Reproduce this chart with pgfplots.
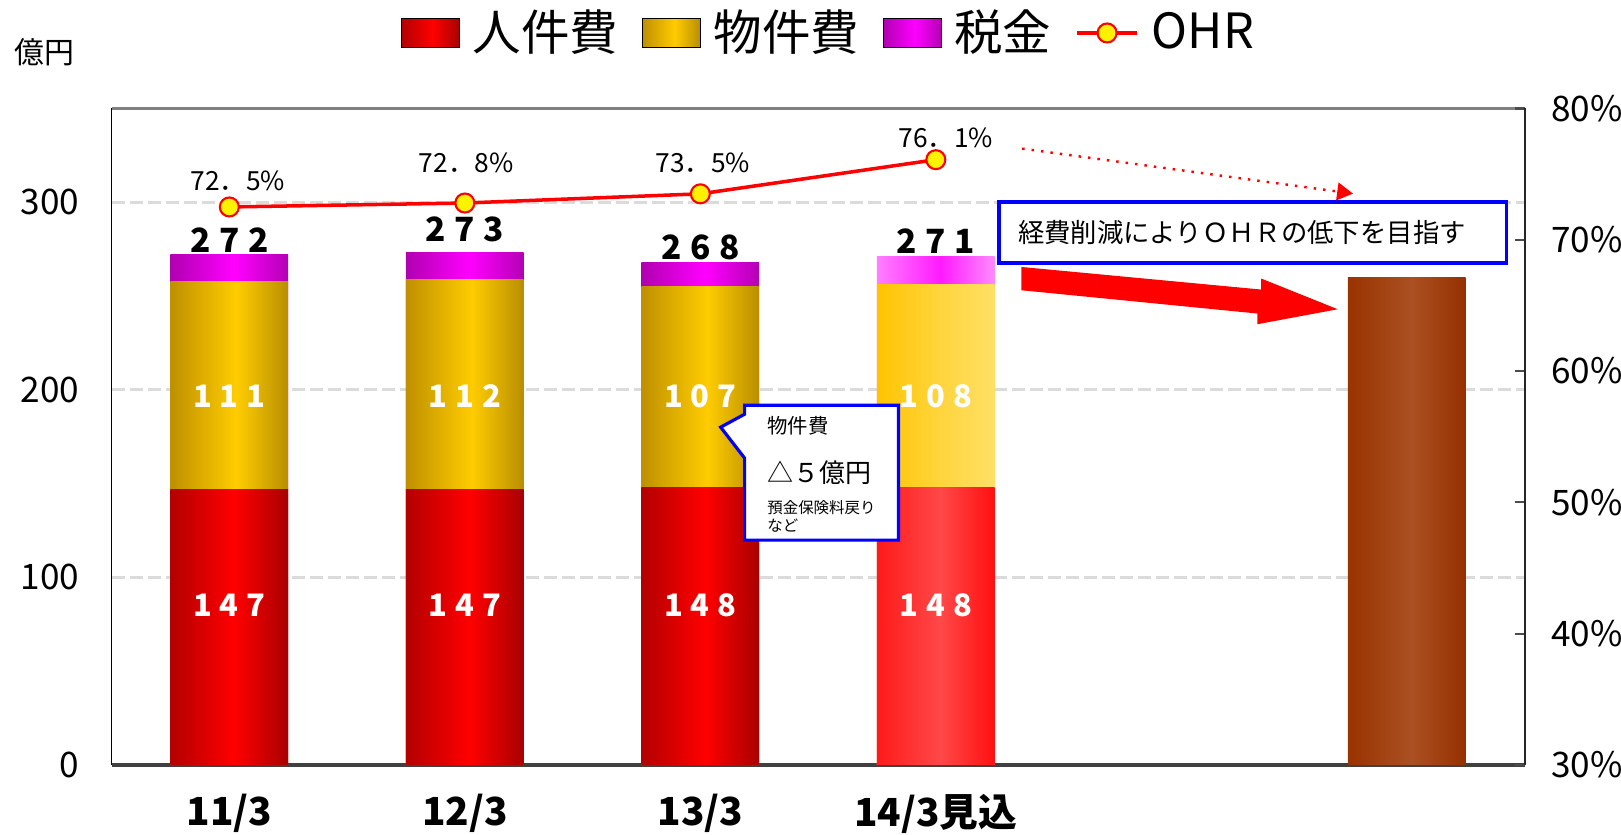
\documentclass[border=0pt]{standalone}
\usepackage{fontspec}
\setmainfont{Noto Sans CJK JP}
\usepackage{pgfplots}
\pgfplotsset{compat=1.18}
\usepackage{pgfplotstable}
\usetikzlibrary{arrows.meta}

\definecolor{jkL}{HTML}{B30000}\definecolor{jkC}{HTML}{FF0000}\definecolor{jkR}{HTML}{A80000}
\definecolor{bkL}{HTML}{BF9000}\definecolor{bkC}{HTML}{FFCC00}\definecolor{bkR}{HTML}{B88E00}
\definecolor{zkL}{HTML}{B000B0}\definecolor{zkC}{HTML}{FF00FF}\definecolor{zkR}{HTML}{B400B4}
\definecolor{jfL}{HTML}{FF1A1A}\definecolor{jfC}{HTML}{FF4848}\definecolor{jfR}{HTML}{FF1010}
\definecolor{bfL}{HTML}{FFC400}\definecolor{bfC}{HTML}{FFD43A}\definecolor{bfR}{HTML}{FFE066}
\definecolor{zfL}{HTML}{FF7FFF}\definecolor{zfC}{HTML}{FF1AFF}\definecolor{zfR}{HTML}{FF8CFF}
\definecolor{brL}{HTML}{993300}\definecolor{brC}{HTML}{AA5022}\definecolor{brR}{HTML}{963000}
\definecolor{boxblue}{HTML}{0000FF}

\pgfdeclarehorizontalshading{jinken}{100bp}{color(0bp)=(jkL); color(25bp)=(jkL); color(52bp)=(jkC); color(75bp)=(jkR); color(100bp)=(jkR)}
\pgfdeclarehorizontalshading{buken}{100bp}{color(0bp)=(bkL); color(25bp)=(bkL); color(53bp)=(bkC); color(75bp)=(bkR); color(100bp)=(bkR)}
\pgfdeclarehorizontalshading{zei}{100bp}{color(0bp)=(zkL); color(25bp)=(zkL); color(52bp)=(zkC); color(75bp)=(zkR); color(100bp)=(zkR)}
\pgfdeclarehorizontalshading{jinkenF}{100bp}{color(0bp)=(jfL); color(25bp)=(jfL); color(52bp)=(jfC); color(75bp)=(jfR); color(100bp)=(jfR)}
\pgfdeclarehorizontalshading{bukenF}{100bp}{color(0bp)=(bfL); color(25bp)=(bfL); color(50bp)=(bfC); color(75bp)=(bfR); color(100bp)=(bfR)}
\pgfdeclarehorizontalshading{zeiF}{100bp}{color(0bp)=(zfL); color(25bp)=(zfL); color(52bp)=(zfC); color(75bp)=(zfR); color(100bp)=(zfR)}
\pgfdeclarehorizontalshading{brown}{100bp}{color(0bp)=(brL); color(25bp)=(brL); color(52bp)=(brC); color(75bp)=(brR); color(100bp)=(brR)}

\pgfplotstableread{
x p m t
0 147 111 14
1 147 112 14
2 148 107 13
}\actual
\pgfplotstableread{
x p m t
3 148 108 15
}\forecast
\pgfplotstableread{
x y
5 260
}\target
\pgfplotstableread{
x ohr
0 72.5
1 72.8
2 73.5
3 76.1
}\ohrdata

\newcommand{\ls}[3]{#1\kern0.26em#2\kern0.26em#3}
\newcommand{\barlbl}{\fontsize{8.8}{10}\selectfont\bfseries}
\pgfplotsset{barst/.style={ybar, bar shift=0pt, bar width=0.5, draw=none, shade, forget plot}}

\begin{document}
\begin{tikzpicture}
\useasboundingbox (-1.116,-0.70) rectangle (15.094,7.65);
\begin{axis}[
  at={(0,0)}, anchor=south west, scale only axis,
  width=14.13cm, height=6.565cm,
  xmin=-0.5, xmax=5.5, ymin=0, ymax=350,
  clip=false,
  axis x line*=bottom, axis y line*=left,
  x axis line style={black!75, line width=1.1pt},
  y axis line style={black, line width=0.5pt},
  xtick={0,1,2,3}, xticklabels={11/3,12/3,13/3,14/3見込},
  x tick style={draw=none},
  extra x ticks={0.5,1.5,2.5,3.5,4.5}, extra x tick labels={},
  extra x tick style={tick align=inside, major tick length=0.12cm, tick style={draw=black, line width=0.5pt}},
  xticklabel style={font=\fontsize{11}{13}\selectfont\bfseries, yshift=-0.17cm},
  ytick={0,100,200,300}, y tick style={draw=none},
  yticklabel style={font=\fontsize{10}{12}\selectfont, xshift=-0.2cm},
  /pgf/number format/assume math mode=true,
  ymajorgrids, grid style={dash pattern=on 0.13cm off 0.05cm, color=black!14, line width=0.8pt},
  legend columns=4,
  legend style={at={(0.2041,1.115)}, anchor=west, draw=none, fill=none, inner sep=0pt,
    font=\fontsize{13.8}{16}\selectfont, nodes={inner xsep=1pt},
    /tikz/every odd column/.append style={column sep=0.09cm},
    /tikz/every even column/.append style={column sep=0.2cm}},
]
\addlegendimage{legend image code/.code={\shade[shading=jinken] (0cm,-0.145cm) rectangle (0.58cm,0.145cm);}}
\addlegendimage{legend image code/.code={\shade[shading=buken] (0cm,-0.145cm) rectangle (0.58cm,0.145cm);}}
\addlegendimage{legend image code/.code={\shade[shading=zei] (0cm,-0.145cm) rectangle (0.58cm,0.145cm);}}
\addlegendimage{red, line width=1.2pt, mark=*, mark size=2.7pt, mark options={fill=yellow, draw=red, line width=0.6pt}}
\addlegendentry{人件費}
\addlegendentry{物件費}
\addlegendentry{税金}
\addlegendentry{OHR}

% actual years, one bar per plot so each gets its own shading; back to front
\pgfplotsinvokeforeach{0,1,2}{
\addplot[barst, shading=zei, x filter/.expression={abs(x-#1)<0.1 ? x : nan}]
  table[x=x, y expr=\thisrow{p}+\thisrow{m}+\thisrow{t}]{\actual};
\addplot[barst, shading=buken, x filter/.expression={abs(x-#1)<0.1 ? x : nan}]
  table[x=x, y expr=\thisrow{p}+\thisrow{m}]{\actual};
\addplot[barst, shading=jinken, x filter/.expression={abs(x-#1)<0.1 ? x : nan}]
  table[x=x, y=p]{\actual};
}
% forecast
\addplot[barst, shading=zeiF] table[x=x, y expr=\thisrow{p}+\thisrow{m}+\thisrow{t}]{\forecast};
\addplot[barst, shading=bukenF] table[x=x, y expr=\thisrow{p}+\thisrow{m}]{\forecast};
\addplot[barst, shading=jinkenF] table[x=x, y=p]{\forecast};
% target
\addplot[barst, shading=brown] table[x=x, y=y]{\target};

\draw[black!50, line width=1.1pt] (rel axis cs:0,1) -- (rel axis cs:1,1);

% value labels
\node[white, font=\barlbl] at (axis cs:0,85.4) {\ls147};
\node[white, font=\barlbl] at (axis cs:1,85.4) {\ls147};
\node[white, font=\barlbl] at (axis cs:2,85.4) {\ls148};
\node[white, font=\barlbl] at (axis cs:3,85.4) {\ls148};
\node[white, font=\barlbl] at (axis cs:0,196.7) {\ls111};
\node[white, font=\barlbl] at (axis cs:1,196.7) {\ls112};
\node[white, font=\barlbl] at (axis cs:2,196.7) {\ls107};
\node[white, font=\barlbl] at (axis cs:3,196.7) {\ls108};
\node[black, font=\fontsize{9.5}{11}\selectfont\bfseries] at (axis cs:0,280) {\ls272};
\node[black, font=\fontsize{9.5}{11}\selectfont\bfseries] at (axis cs:1,285.5) {\ls273};
\node[black, font=\fontsize{9.5}{11}\selectfont\bfseries] at (axis cs:2,275.8) {\ls268};
\node[black, font=\fontsize{9.5}{11}\selectfont\bfseries] at (axis cs:3,279.5) {\ls271};
\end{axis}

\begin{axis}[
  at={(0,0)}, anchor=south west, scale only axis,
  width=14.13cm, height=6.565cm,
  xmin=-0.5, xmax=5.5, ymin=30, ymax=80,
  clip=false,
  axis x line=none, axis y line*=right,
  y axis line style={black!85, line width=0.6pt},
  ytick={30,40,...,80},
  yticklabel={\pgfmathprintnumber{\tick}\%},
  /pgf/number format/assume math mode=true,
  tick align=inside, major tick length=0.1cm,
  y tick style={black!70, line width=0.6pt},
  yticklabel style={font=\fontsize{10}{12}\selectfont, xshift=0.14cm},
]
\addplot[red, line width=1pt, mark=*, mark size=2.7pt, mark options={fill=yellow, draw=red, line width=0.6pt}]
  table[x=x, y=ohr]{\ohrdata};
\node[font=\fontsize{7.5}{9}\selectfont] at (axis cs:0.036,74.5) {72．5\%};
\node[font=\fontsize{7.5}{9}\selectfont] at (axis cs:1.006,75.83) {72．8\%};
\node[font=\fontsize{7.5}{9}\selectfont] at (axis cs:2.011,75.83) {73．5\%};
\node[font=\fontsize{7.5}{9}\selectfont] at (axis cs:3.043,77.79) {76．1\%};
\end{axis}

\begin{scope}[x=0.01cm, y=-0.01cm, shift={(-111.6,-765)}]
  \node[font=\fontsize{8.5}{10}\selectfont] at (44.5,51.7) {億円};
  % callout
  \draw[boxblue, line width=0.9pt, fill=white, line join=miter]
    (745,405) -- (899,405) -- (899,540) -- (745,540) -- (745,458) -- (721,427) -- (745,414) -- cycle;
  \node[anchor=west, inner sep=0pt, font=\fontsize{5.8}{7}\selectfont] at (767,426) {物件費};
  \node[anchor=west, inner sep=0pt, font=\fontsize{7.4}{9}\selectfont] at (767,473) {△５億円};
  \node[anchor=west, inner sep=0pt, font=\fontsize{4.4}{5}\selectfont] at (767,508) {預金保険料戻り};
  \node[anchor=west, inner sep=0pt, font=\fontsize{4.4}{5}\selectfont] at (767,525) {など};
  % target box
  \draw[boxblue, line width=1.1pt, fill=white] (999.7,201.6) rectangle (1507.3,262.6);
  \node[anchor=west, inner sep=0pt, font=\fontsize{7.5}{9}\selectfont] at (1018,232) {経費削減によりＯＨＲの低下を目指す};
  % dotted arrow
  \draw[red, line width=0.7pt, dotted, -{Triangle[length=4.5pt, width=5pt, fill=red]}] (1022.7,148.3) -- (1353.7,193.3);
  % thick arrow
  \fill[red] (1021.9,266.7) -- (1261.9,289.3) -- (1261.9,278.3) -- (1338.4,309) -- (1258,324) -- (1258,313.3) -- (1021.9,290) -- cycle;
\end{scope}
\end{tikzpicture}
\end{document}
